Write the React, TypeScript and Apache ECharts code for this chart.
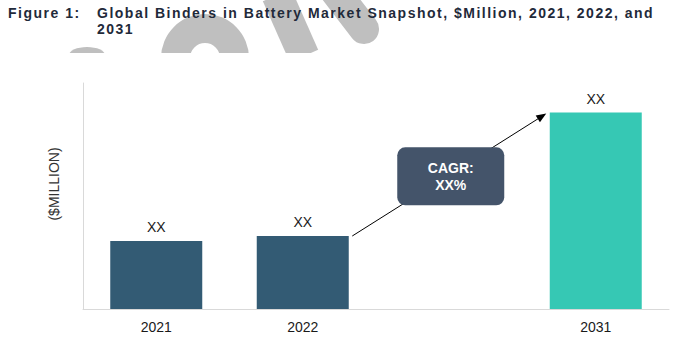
import React, { useEffect, useRef } from 'react';
import * as echarts from 'echarts';

const categories = ['2021', '2022', '', '2031'];
const values: (number | null)[] = [30.1, 32.3, null, 86.9];
const valueLabels = ['XX', 'XX', '', 'XX'];
const cagrText = ['CAGR:', 'XX%'];
const titleLead = 'Figure 1:';
const titleLines = ['Global Binders in Battery Market Snapshot, $Million, 2021, 2022, and', '2031'];
const yAxisName = '($MILLION)';
const yMax = 100;

const barColors = ['#335B74', '#335B74', '#335B74', '#36C8B4'];
const FONT = '"Liberation Sans", Arial, Helvetica, sans-serif';
const BAR_W = 92;
const WM = '#bfbfbf';

export default function App() {
  const ref = useRef<HTMLDivElement>(null);
  useEffect(() => {
    document.body.style.margin = '0';
    const el = ref.current!;
    const chart = echarts.init(el, null, { renderer: 'svg' });
    const base: any = {
      animation: false,
      grid: { left: 83, right: 11, top: 83, bottom: 48 },
      xAxis: {
        type: 'category',
        data: categories,
        axisLine: { lineStyle: { color: '#d9d9d9', width: 1 } },
        axisTick: { show: false },
        axisLabel: { color: '#1a1a1a', fontSize: 14, fontFamily: FONT, margin: 11 },
      },
      yAxis: {
        type: 'value',
        min: 0,
        max: yMax,
        axisLine: { show: true, lineStyle: { color: '#d9d9d9', width: 1 } },
        axisTick: { show: false },
        axisLabel: { show: false },
        splitLine: { show: false },
      },
      series: [
        {
          type: 'bar',
          barWidth: BAR_W,
          data: values.map((v, i) => ({ value: v == null ? '-' : v, itemStyle: { color: barColors[i] } })),
          label: {
            show: true,
            position: 'top',
            distance: 7,
            formatter: (p: any) => valueLabels[p.dataIndex],
            color: '#1a1a1a',
            fontSize: 14,
            fontFamily: FONT,
          },
        },
      ],
    };
    chart.setOption(base);

    const p1 = chart.convertToPixel({ xAxisIndex: 0, yAxisIndex: 0 }, [1, values[1] as number]);
    const p2 = chart.convertToPixel({ xAxisIndex: 0, yAxisIndex: 0 }, [3, values[3] as number]);
    const start = [p1[0] + BAR_W / 2 + 3.5, p1[1]];
    const end = [p2[0] - BAR_W / 2 - 3.5, p2[1] + 1];
    const dx = end[0] - start[0];
    const dy = end[1] - start[1];
    const len = Math.sqrt(dx * dx + dy * dy);
    const ux = dx / len, uy = dy / len;
    const nx = -uy, ny = ux;
    const AL = 10, AW = 4;
    const head = [
      [end[0], end[1]],
      [end[0] - ux * AL + nx * AW, end[1] - uy * AL + ny * AW],
      [end[0] - ux * AL - nx * AW, end[1] - uy * AL - ny * AW],
    ];
    const cx = (start[0] + end[0]) / 2 + 1.5;
    const cy = (start[1] + end[1]) / 2 + 1.5;

    const graphic: any[] = [
      // watermark
      { type: 'ellipse', id: 'wm1', z: 0, shape: { cx: 87, cy: 55, rx: 18, ry: 8 }, style: { fill: WM } },
      { type: 'sector', id: 'wm2', z: 0, shape: { cx: 205, cy: 58, r: 44, r0: 15, startAngle: Math.PI, endAngle: Math.PI * 2, clockwise: true }, style: { fill: WM } },
      { type: 'line', id: 'wm3', z: 0, shape: { x1: 277, y1: -5, x2: 304, y2: 56 }, style: { stroke: WM, lineWidth: 31, lineCap: 'butt' } },
      { type: 'line', id: 'wm4', z: 0, shape: { x1: 334, y1: -10, x2: 364, y2: 29 }, style: { stroke: WM, lineWidth: 30, lineCap: 'round' } },
      { type: 'rect', id: 'wmcover', z: 1, shape: { x: 0, y: 53, width: 680, height: 20 }, style: { fill: '#ffffff' } },
      // title
      { type: 'text', id: 't0', z: 5, x: 8, y: 12.6, style: { text: titleLead, fill: '#1f2a3a', font: `bold 14px ${FONT}`, align: 'left', verticalAlign: 'middle' } },
      { type: 'text', id: 't1', z: 5, x: 97, y: 12.6, style: { text: titleLines[0], fill: '#1f2a3a', font: `bold 14px ${FONT}`, align: 'left', verticalAlign: 'middle' } },
      { type: 'text', id: 't2', z: 5, x: 97, y: 29.2, style: { text: titleLines[1], fill: '#1f2a3a', font: `bold 14px ${FONT}`, align: 'left', verticalAlign: 'middle' } },
      // y axis name
      { type: 'text', id: 'yname', z: 5, x: 54, y: 184, rotation: Math.PI / 2, style: { text: yAxisName, fill: '#333333', font: `14px ${FONT}`, align: 'center', verticalAlign: 'middle' } },
      // arrow
      { type: 'line', id: 'arrow', z: 5, shape: { x1: start[0], y1: start[1], x2: end[0] - ux * AL * 0.8, y2: end[1] - uy * AL * 0.8 }, style: { stroke: '#000000', lineWidth: 1 } },
      { type: 'polygon', id: 'arrowhead', z: 5, shape: { points: head }, style: { fill: '#000000' } },
      // CAGR box
      { type: 'rect', id: 'cagrbox', z: 6, shape: { x: cx - 53.5, y: cy - 29, width: 107, height: 58, r: 8 }, style: { fill: '#44546A' } },
      { type: 'text', id: 'cagrtext', z: 7, x: cx, y: cy, style: { text: cagrText.join('\n'), fill: '#ffffff', font: `bold 14px ${FONT}`, lineHeight: 17.5, align: 'center', verticalAlign: 'middle' } },
    ];
    chart.setOption({ graphic });

    const spaceTitle = () => {
      const texts = el.querySelectorAll('text');
      const top = el.getBoundingClientRect().top;
      texts.forEach((t) => {
        const c = t.textContent || '';
        const r = t.getBoundingClientRect();
        if ((c === titleLead || titleLines.indexOf(c) >= 0) && r.top - top < 50) {
          t.setAttribute('letter-spacing', '1.5');
        }
      });
    };
    spaceTitle();
    chart.on('finished', spaceTitle);

    return () => {
      chart.dispose();
    };
  }, []);
  return <div ref={ref} style={{ width: 680, height: 357 }} />;
}
